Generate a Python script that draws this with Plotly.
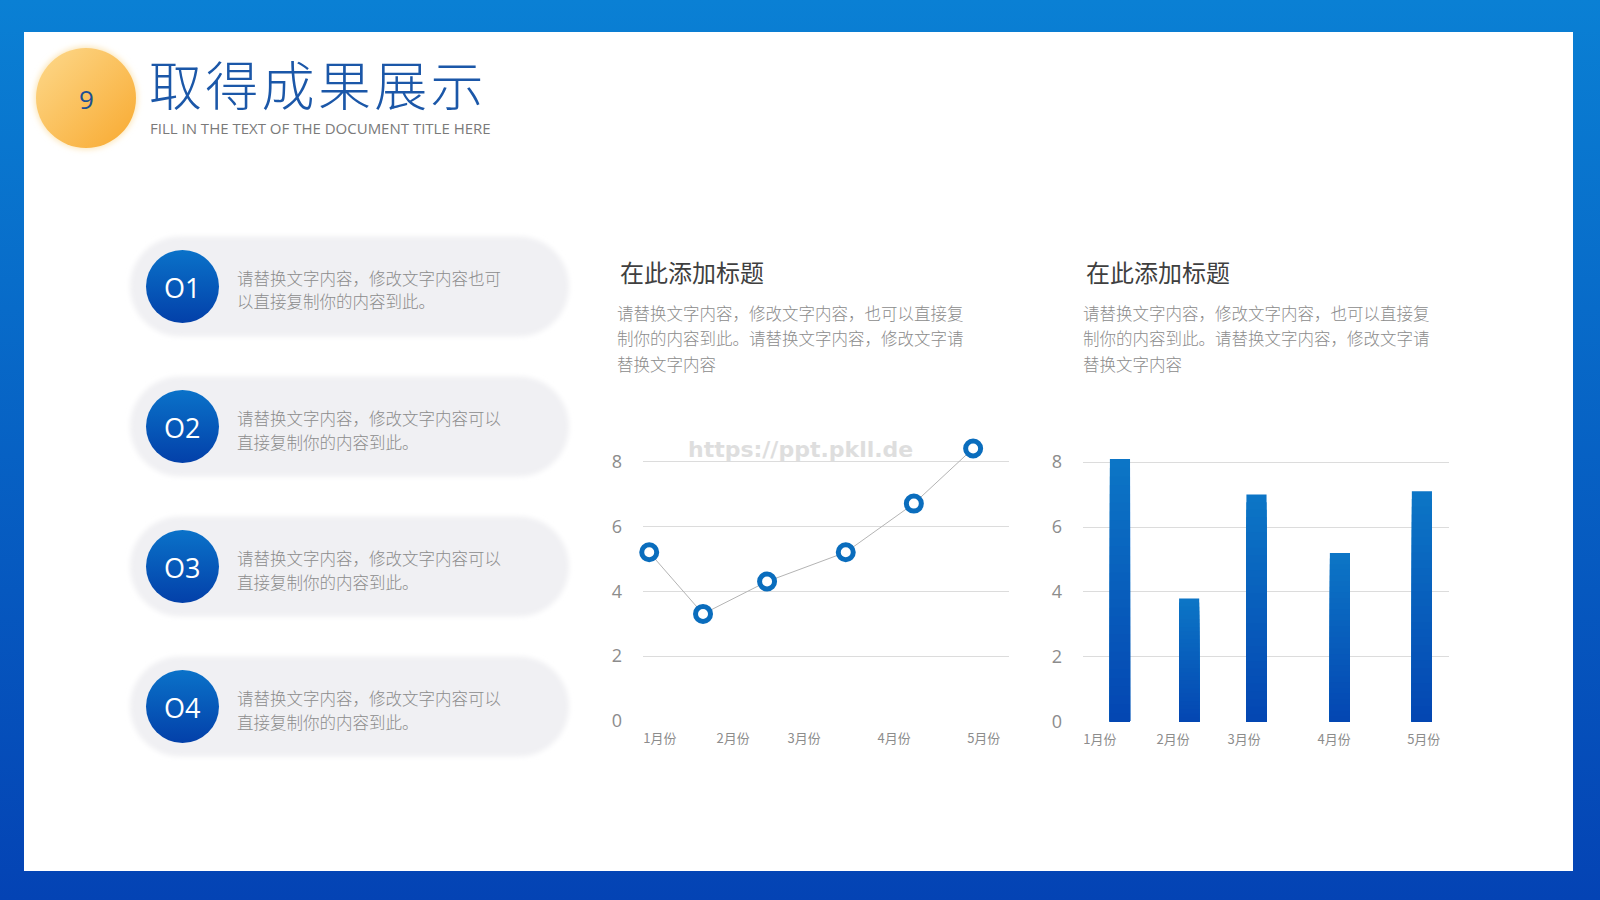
import base64
import plotly.graph_objects as go

W, H = 1600, 900

# ---------------- data ----------------
months = ["1月份", "2月份", "3月份", "4月份", "5月份"]
month_tick_pos = [4.6, 24.6, 44.0, 68.6, 93.1]          # tick label positions (axis units 0-100)
line_x = [1.7, 16.4, 33.9, 55.4, 74.0, 90.2]            # point positions (axis units 0-100)
line_values = [5.2, 3.3, 4.3, 5.2, 6.7, 8.4]
bar_x = [10.1, 29.0, 47.4, 70.2, 92.6]
bar_values = [8.1, 3.8, 7.0, 5.2, 7.1]
y_ticks = [0, 2, 4, 6, 8]

item_numbers = ["O1", "O2", "O3", "O4"]
item_line1 = ["请替换文字内容，修改文字内容也可", "请替换文字内容，修改文字内容可以",
              "请替换文字内容，修改文字内容可以", "请替换文字内容，修改文字内容可以"]
item_line2 = ["以直接复制你的内容到此。", "直接复制你的内容到此。",
              "直接复制你的内容到此。", "直接复制你的内容到此。"]

title_text = "取得成果展示"
subtitle_text = "FILL IN THE TEXT OF THE DOCUMENT TITLE HERE"
page_number = "9"
chart_heading = "在此添加标题"
para_lines = ["请替换文字内容，修改文字内容，也可以直接复",
              "制你的内容到此。请替换文字内容，修改文字请",
              "替换文字内容"]
watermark = "https://ppt.pkll.de"

# ---------------- helpers ----------------
def px(x):
    return x / W

def py(y):
    return 1 - y / H

CJK = "Noto Sans CJK SC, Noto Sans, sans-serif"
LAT = "Open Sans, Noto Sans, sans-serif"
GRAY = "#8c8c8c"

# ---------------- decorative background (svg) ----------------
pill_tops = [236.5, 376.5, 516.5, 656.5]
pill_h = 100
pills_svg = ""
for t in pill_tops:
    cy = t + pill_h / 2
    pills_svg += (f'<rect x="130" y="{t}" width="439" height="{pill_h}" rx="50" ry="50" '
                  f'fill="#f0f0f3" filter="url(#soft)"/>')
    pills_svg += f'<circle cx="182.5" cy="{cy}" r="36.5" fill="url(#blu)"/>'

svg = f'''<svg xmlns="http://www.w3.org/2000/svg" width="1600" height="900" viewBox="0 0 1600 900" preserveAspectRatio="none">
<defs>
<linearGradient id="bg" x1="0" y1="0" x2="0" y2="1"><stop offset="0" stop-color="#0a80d4"/><stop offset="1" stop-color="#0443b4"/></linearGradient>
<linearGradient id="org" x1="0" y1="0" x2="1" y2="1"><stop offset="0" stop-color="#fdd98c"/><stop offset="1" stop-color="#f8a92f"/></linearGradient>
<linearGradient id="blu" x1="0" y1="0" x2="0" y2="1"><stop offset="0" stop-color="#0a72c9"/><stop offset="1" stop-color="#0340a9"/></linearGradient>
<filter id="soft" x="-10%" y="-30%" width="120%" height="160%"><feGaussianBlur stdDeviation="2.5"/></filter>
<filter id="glow" x="-30%" y="-30%" width="160%" height="160%"><feGaussianBlur stdDeviation="3"/></filter>
</defs>
<rect x="0" y="0" width="1600" height="900" fill="url(#bg)"/>
<rect x="24" y="32" width="1549" height="839" fill="#ffffff"/>
<circle cx="86" cy="98" r="51" fill="#fbe3b0" filter="url(#glow)"/>
<circle cx="86" cy="98" r="50" fill="url(#org)"/>
{pills_svg}
</svg>'''
bg_uri = "data:image/svg+xml;base64," + base64.b64encode(svg.encode("utf-8")).decode("ascii")

fig = go.Figure()

# ---------------- line chart ----------------
fig.add_trace(go.Scatter(
    x=line_x, y=line_values, mode="lines+markers",
    line=dict(color="#b4b4b4", width=1),
    marker=dict(size=15, color="#ffffff", line=dict(color="#0a6dbd", width=5)),
    cliponaxis=False, hoverinfo="skip", showlegend=False,
    xaxis="x", yaxis="y",
))

# ---------------- bar chart (vertical gradient by overlaid bars) ----------------
N = 30
top_rgb = (12, 118, 198)
bot_rgb = (4, 70, 178)
for k in range(N):
    h = (N - k) / N
    f = h - 0.5 / N
    c = tuple(round(bot_rgb[i] + (top_rgb[i] - bot_rgb[i]) * f) for i in range(3))
    fig.add_trace(go.Bar(
        x=bar_x, y=[v * h for v in bar_values], width=5.5,
        marker=dict(color=f"rgb{c}", line=dict(width=0)),
        hoverinfo="skip", showlegend=False, xaxis="x2", yaxis="y2",
    ))

axis_common_y = dict(range=[0, 9], tickvals=y_ticks, showgrid=True, gridcolor="#dcdcdc",
                     gridwidth=1, zeroline=False, showline=False, ticks="",
                     tickfont=dict(family=LAT, size=18, color=GRAY), ticklabelstandoff=20,
                     fixedrange=True, automargin=False)
axis_common_x = dict(range=[0, 100], tickvals=month_tick_pos, ticktext=months, showgrid=False,
                     zeroline=False, showline=False, ticks="",
                     tickfont=dict(family=CJK, size=13, color=GRAY), ticklabelstandoff=8,
                     fixedrange=True, automargin=False)

fig.update_layout(
    width=W, height=H, autosize=False,
    margin=dict(l=0, r=0, t=0, b=0, pad=0, autoexpand=False),
    paper_bgcolor="#0a62c4",
    plot_bgcolor="rgba(0,0,0,0)",
    barmode="overlay",
    xaxis=dict(domain=[px(643), px(1009)], anchor="y", **axis_common_x),
    yaxis=dict(domain=[py(721), py(429)], anchor="x", **axis_common_y),
    xaxis2=dict(domain=[px(1083), px(1449)], anchor="y2", **axis_common_x),
    yaxis2=dict(domain=[py(721.7), py(429.7)], anchor="x2", **axis_common_y),
    images=[dict(source=bg_uri, xref="paper", yref="paper", x=0, y=1, sizex=1, sizey=1,
                 xanchor="left", yanchor="top", sizing="stretch", layer="below")],
)

ann = []

def text(x, y, s, size, color, family=CJK, xanchor="left", weight=None):
    font = dict(family=family, size=size, color=color)
    if weight:
        font["weight"] = weight
    ann.append(dict(x=px(x), y=py(y), xref="paper", yref="paper", text=s, showarrow=False,
                    xanchor=xanchor, yanchor="middle", font=font))

# header
text(86, 99, page_number, 26, "#1d4f93", family=LAT, xanchor="center")
text(147, 83, "\u200a".join(title_text), 53, "#1b57a8", weight=300)
text(148, 128, subtitle_text, 15, "#7a7a7a", family=LAT)

# list items
for i, t in enumerate(pill_tops):
    cy = t + pill_h / 2
    text(182, cy + 1, item_numbers[i], 27, "#ffffff", family=LAT, xanchor="center")
    text(235, cy - 9, item_line1[i], 16.5, GRAY, weight=300)
    text(235, cy + 15, item_line2[i], 16.5, GRAY, weight=300)

# chart headings and paragraphs
for x0, hx in [(615, 618), (1081, 1084)]:
    text(hx, 271, chart_heading, 24, "#3f3f3f")
    for j, line in enumerate(para_lines):
        text(x0, 313 + 25.5 * j, line, 16.5, GRAY, weight=300)

# watermark
text(800, 449, watermark, 22, "#dedede", family="DejaVu Sans", xanchor="center", weight="bold")

fig.update_layout(annotations=ann)
fig.write_html("out.html")
